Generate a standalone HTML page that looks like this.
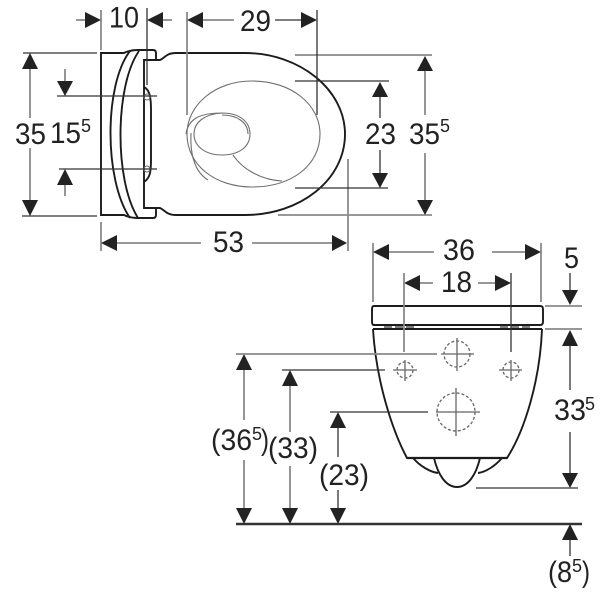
<!DOCTYPE html>
<html><head><meta charset="utf-8">
<style>
html,body{margin:0;padding:0;background:#fff;width:600px;height:604px;overflow:hidden}
svg{display:block}
text{font-family:"Liberation Sans",sans-serif;font-size:29.5px;fill:#222}
.s{font-size:18px}
.k{fill:none;stroke:#1c1c1c;stroke-width:1.9}
.d{fill:none;stroke:#666;stroke-width:1.3}
.g{fill:none;stroke:#8a8a8a;stroke-width:1.8}
.m{fill:none;stroke:#333;stroke-width:1.3}
.t{fill:none;stroke:#6f6f6f;stroke-width:1.1}
.a{fill:#222;stroke:none}
</style></head><body>
<svg width="600" height="604" viewBox="0 0 600 604" xmlns="http://www.w3.org/2000/svg">
<!-- top view: seat -->
<path class="k" d="M101 53H124Q130 50 138 50H153Q156 50 156 53V60H144V208H156V215Q156 218 153 218H138Q130 218 124 215H101V53Z"/>
<path class="k" d="M130 51C104 85 104 180 130 218"/>
<path class="k" d="M139 51C115 85 114 180 138 218"/>
<path class="k" d="M144 87C150 90 151 98 151 110V160C151 172 150 178 144 182"/>
<circle class="t" cx="147" cy="97" r="3"/><circle class="t" cx="147" cy="169" r="3"/>
<!-- bowl -->
<path class="k" d="M156 60H160C165 58 166 53 176 53H245C300 53 345 90 345 134C345 180 300 215 245 215H176C166 215 165 210 160 208H156"/>
<path class="t" d="M187 134C187 105 215 81 252 81C292 81 320 105 320 134C320 165 292 187 252 187C215 187 187 165 187 134Z"/>
<path class="t" d="M186 134C188 120 198 113 222 113C240 113 250 122 250 134C250 146 240 155 222 155C205 155 194 146 194 134C194 122 205 114 222 113"/>
<path class="t" d="M222 115C238 115 248 123 248 134"/>
<path class="t" d="M191 133C190 155 195 172 208 180"/>
<path class="t" d="M233 155C243 170 262 180 282 181"/>
<!-- top view dimensions -->
<g class="g">
<path d="M101 10V50M101 222V251M187 12V115"/>
<path d="M76 20H85M163 20H172M203 20H234M30 69V118M30 148V200M65 69V81M65 185V196"/>
<path d="M117 243H201M252 243H332M348 159V251"/>
<path d="M295 55H432M278 215H432M425 71V115M425 153V200"/>
<path d="M373 243V302M541 243V302"/>
</g>
<g class="m">
<path d="M147 8V85M317 10V115M23 53H97M22 216H97M57 96H157M59 169H157"/>
<path d="M275 20H302M295 81H389M295 188H388M380 97V118M380 150V173"/>
</g>
<!-- arrows -->
<g class="a">
<path d="M101 20L85 12V28Z"/><path d="M147 20L163 12V28Z"/>
<path d="M187 20L203 12V28Z"/><path d="M317 20L301 12V28Z"/>
<path d="M30 53L22 69H38Z"/><path d="M30 216L22 200H38Z"/>
<path d="M65 96L57 81H73Z"/><path d="M65 169L57 185H73Z"/>
<path d="M101 243L117 235V251Z"/><path d="M347 243L332 235V251Z"/>
<path d="M380 82L372 97H388Z"/><path d="M380 188L372 173H388Z"/>
<path d="M425 56L417 71H433Z"/><path d="M425 215L417 200H433Z"/>
<path d="M373 252L389 244V260Z"/><path d="M541 252L525 244V260Z"/>
<path d="M404 283L420 275V291Z"/><path d="M511 283L495 275V291Z"/>
<path d="M570 305L562 290H578Z"/>
<path d="M570 330L562 346H578Z"/><path d="M570 488L562 473H578Z"/>
<path d="M244 354L236 370H252Z"/><path d="M244 524L236 508H252Z"/>
<path d="M290 370L282 386H298Z"/><path d="M290 524L282 508H298Z"/>
<path d="M338 412L330 428H346Z"/><path d="M338 524L330 508H346Z"/>
<path d="M570 524L562 540H578Z"/>
</g>
<!-- front view -->
<path class="k" d="M374 306H540Q543 306 543 309V322Q543 325 540 325H374Q372 325 372 322V309Q372 306 374 306Z"/>
<path d="M373 329H542" stroke="#1c1c1c" stroke-width="1.9" fill="none"/>
<path d="M384 327H415M500 327H531" stroke="#555" stroke-width="1.6" fill="none" stroke-dasharray="8 3"/>
<path class="k" d="M373 329C376 380 392 430 407 458H507C525 430 540 380 542 329"/>
<path d="M407 458H507" stroke="#1c1c1c" stroke-width="2.2" fill="none"/>
<path class="k" d="M413 458C420 466 430 472 438 473"/>
<path class="k" d="M434 458C438 475 446 487 457 487C468 487 476 475 480 458"/>
<path class="k" d="M502 458C495 466 486 472 478 473"/>
<!-- crosshairs -->
<g class="d">
<circle cx="457" cy="354" r="13" stroke-dasharray="3 2"/>
<circle cx="405" cy="370" r="8" stroke-dasharray="3 2"/>
<circle cx="511" cy="370" r="8" stroke-dasharray="3 2"/>
<circle cx="456" cy="412" r="19" stroke-dasharray="3 2"/>
<path d="M457 338V371M441 354H474M405 360V381M393 370H417M511 360V381M499 370H522M456 388V436M436 412H480"/>
</g>
<!-- front view dimensions -->
<g class="g">
<path d="M236 354H437M389 252H434M492 252H525M433 283H420M478 283H495"/>
<path d="M404 273V352M244 370V420M244 460V508"/>
<path d="M545 306H582M545 329H582"/>
<path d="M290 386V432M290 466V508"/>
</g>
<g class="m">
<path d="M282 370H385M330 412H428M511 273V352"/>
<path d="M570 273V290M570 346V390M570 432V473M476 488H578M338 428V457M338 490V508M570 540V556"/>
</g>
<path d="M236 524H582" stroke="#333" stroke-width="2.6" fill="none"/>
<!-- labels -->
<text x="109" y="27.500" textLength="30" lengthAdjust="spacingAndGlyphs">10</text>
<text x="240" y="31" textLength="31" lengthAdjust="spacingAndGlyphs">29</text>
<text x="15" y="144" textLength="31" lengthAdjust="spacingAndGlyphs">35</text>
<text x="50" y="143" textLength="31" lengthAdjust="spacingAndGlyphs">15</text><text x="81" y="132" class="s">5</text>
<text x="213" y="252" textLength="31" lengthAdjust="spacingAndGlyphs">53</text>
<text x="365" y="144" textLength="31" lengthAdjust="spacingAndGlyphs">23</text>
<text x="409" y="144" textLength="31" lengthAdjust="spacingAndGlyphs">35</text><text x="440" y="132" class="s">5</text>
<text x="443" y="260" textLength="32" lengthAdjust="spacingAndGlyphs">36</text>
<text x="441" y="292" textLength="31" lengthAdjust="spacingAndGlyphs">18</text>
<text x="564" y="268" textLength="15" lengthAdjust="spacingAndGlyphs">5</text>
<text x="554" y="420" textLength="32" lengthAdjust="spacingAndGlyphs">33</text><text x="585" y="410" class="s">5</text>
<text x="211" y="450" textLength="41" lengthAdjust="spacingAndGlyphs">(36</text><text x="252" y="440" class="s">5</text><text x="261" y="450" textLength="8" lengthAdjust="spacingAndGlyphs">)</text>
<text x="268" y="458" textLength="50" lengthAdjust="spacingAndGlyphs">(33)</text>
<text x="319" y="485" textLength="50" lengthAdjust="spacingAndGlyphs">(23)</text>
<text x="548" y="582" textLength="24" lengthAdjust="spacingAndGlyphs">(8</text><text x="572" y="572" class="s">5</text><text x="582" y="582" textLength="8" lengthAdjust="spacingAndGlyphs">)</text>
</svg>
</body></html>
